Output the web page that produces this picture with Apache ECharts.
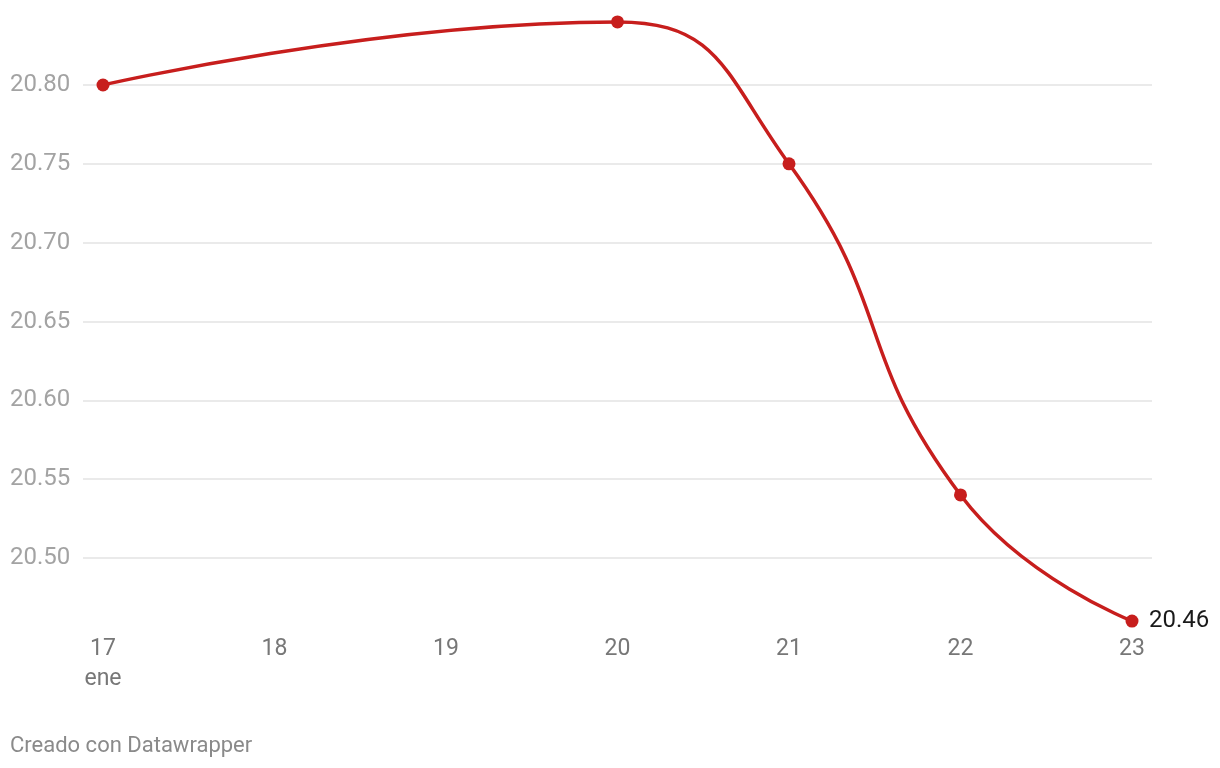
<!DOCTYPE html>
<html>
<head>
<meta charset="utf-8">
<script src="https://cdn.jsdelivr.net/npm/echarts@6/dist/echarts.min.js"></script>
<style>
html,body{margin:0;padding:0;background:#fff;}
#chart{width:1220px;height:768px;}
</style>
</head>
<body>
<div id="chart"></div>
<script>
const days = [17, 20, 21, 22, 23];
const values = [20.80, 20.84, 20.75, 20.54, 20.46];
const xTickDays = [17, 18, 19, 20, 21, 22, 23];
const monthLabel = 'ene';
const footer = 'Creado con Datawrapper';

const chart = echarts.init(document.getElementById('chart'));
const lineColor = '#c71e1d';
const seriesData = days.map((d, i) => [d, values[i]]);

chart.setOption({
  animation: false,
  textStyle: { fontFamily: 'Roboto' },
  grid: { left: 83, right: 68, top: 6.17, bottom: 131.17, containLabel: false },
  xAxis: {
    type: 'value',
    min: 16.8834,
    max: 23.1166,
    axisLine: { show: false },
    axisTick: { show: false },
    splitLine: { show: false },
    axisLabel: {
      customValues: xTickDays,
      color: '#777777',
      fontSize: 23,
      lineHeight: 30,
      margin: -3,
      formatter: v => (v === xTickDays[0] ? v + '\n' + monthLabel : String(v))
    }
  },
  yAxis: {
    type: 'value',
    min: 20.45,
    max: 20.85,
    interval: 0.05,
    axisLine: { show: false },
    axisTick: { show: false },
    splitLine: { show: true, showMinLine: false, showMaxLine: false, lineStyle: { color: '#e3e3e3', width: 1.5 } },
    axisLabel: {
      showMinLabel: false,
      showMaxLabel: false,
      color: '#a3a3a3',
      fontSize: 24,
      align: 'left',
      margin: 73,
      formatter: v => v.toFixed(2)
    }
  },
  series: [{
    type: 'line',
    data: seriesData,
    smooth: 0.5,
    symbol: 'circle',
    symbolSize: 13,
    lineStyle: { color: lineColor, width: 3.5 },
    itemStyle: { color: lineColor },
    endLabel: {
      show: true,
      formatter: p => p.value[1].toFixed(2),
      color: '#1a1a1a',
      fontSize: 24,
      distance: 17
    }
  }],
  graphic: [{
    type: 'text',
    left: 10,
    top: 735,
    style: { text: footer, fill: '#8a8a8a', fontSize: 22, fontFamily: 'Roboto' }
  }]
});
</script>
</body>
</html>
